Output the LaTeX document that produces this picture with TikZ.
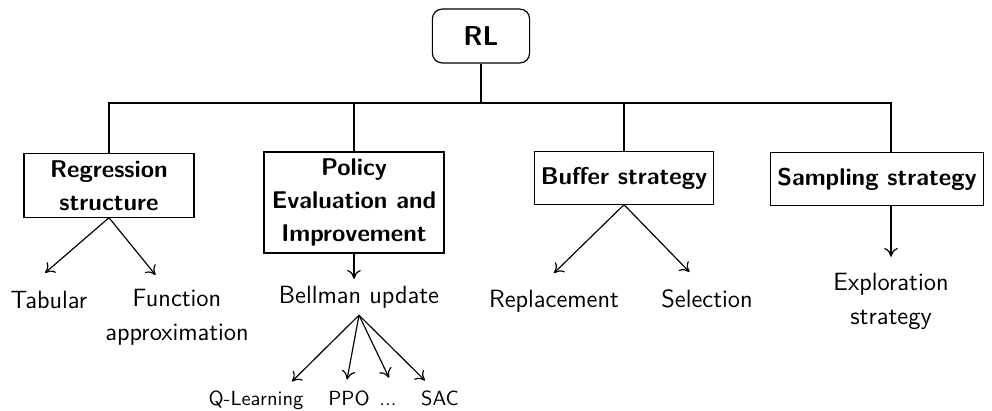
\documentclass[tikz,border=0pt]{standalone}
\usepackage{amsmath,amssymb}
\usepackage{tikz}
\usetikzlibrary{arrows.meta}

\tikzset{
  box/.style={draw,align=center,font=\sffamily\bfseries\fontsize{12.4}{17}\selectfont},
  leaf/.style={align=center,font=\sffamily\fontsize{12.8}{17.5}\selectfont},
  small/.style={font=\sffamily\fontsize{10.5}{12}\selectfont,text height=7pt,text depth=2pt,inner sep=0pt,anchor=base},
}

\begin{document}
\begin{tikzpicture}[line width=0.6pt,x=0.018cm,y=-0.018cm,>={To[length=4.5pt,width=7pt]}]
  \useasboundingbox (0,0) rectangle (992,410);
  % top and the four branches
  \node[box,font=\sffamily\bfseries\fontsize{14}{17}\selectfont,rounded corners=5pt,minimum width=1.75cm,minimum height=0.97cm] (rl) at (481,36) {RL};
  \coordinate (bus) at (481,103);
  \node[box,minimum width=3.06cm] (reg) at (109,185.5) {Regression\\structure};
  \node[box,minimum width=3.24cm] (pol) at (354,202.5) {Policy\\Evaluation and\\Improvement};
  \node[box,minimum width=3.15cm,minimum height=0.94cm] (buf) at (624,178) {Buffer strategy};
  \node[box,minimum width=3.82cm,minimum height=0.94cm] (samp) at (877,179) {Sampling strategy};
  % leaves
  \node[leaf] (tab) at (49,299.5) {Tabular};
  \node[leaf] (func) at (177,317) {Function\\approximation};
  \node[leaf] (bell) at (359,297) {Bellman update};
  \node[leaf] (rep) at (554,301) {Replacement};
  \node[leaf] (sel) at (707,299) {Selection};
  \node[leaf] (expl) at (891,301) {Exploration\\strategy};
  \node[small] (ql) at (256,405.5) {Q-Learning};
  \node[small] (ppo) at (349,405.5) {PPO};
  \node[small] (etc) at (388,405.5) {...};
  \node[small] (sac) at (440,405.5) {SAC};
  % tree lines
  \draw (rl.south) -- (bus);
  \draw (reg.north) |- (bus) -| ([xshift=7.2pt]samp.north);
  \draw (pol.north) -- (pol.north |- bus);
  \draw (buf.north) -- (buf.north |- bus);
  % arrows
  \draw [->](reg.south) -- ([xshift=-2pt,yshift=5.5pt]tab.north);
  \draw [->](reg.south) -- ([xshift=-11pt,yshift=3.5pt]func.north);
  \draw [->](pol.south) -- (pol.south |- bell.north);
  \draw [->](bell.south) -- ([xshift=18.4pt,yshift=5pt]ql.north);
  \draw [->](bell.south) -- ([xshift=-1pt,yshift=6pt]ppo.north);
  \draw [->](bell.south) -- ([xshift=0.5pt,yshift=7pt]etc.north);
  \draw [->](bell.south) -- ([xshift=-7.7pt,yshift=5.5pt]sac.north);
  \draw [->](buf.south) -- ([yshift=5pt]rep.north);
  \draw [->](buf.south) -- ([xshift=-9pt,yshift=5.5pt]sel.north);
  \draw [->](samp.south -| expl.north) -- ([yshift=4.5pt]expl.north);
\end{tikzpicture}
\end{document}
